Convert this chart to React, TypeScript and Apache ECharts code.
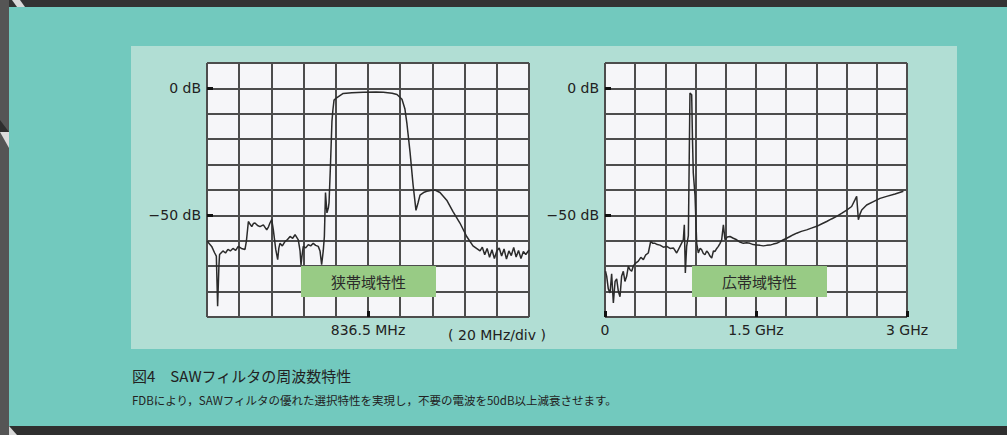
import React, { useEffect, useRef } from "react";
import * as echarts from "echarts";

// ---- Data ----
// Narrow-band trace: frequency offset from 836.5 MHz (MHz), level (dB)
const narrowOffsetMHz = [
  -99.8, -98.8, -97.1, -95.3, -94.2, -93.4, -92.6, -92.2, -90.1, -88.5, -87.0, -85.5, -83.9, -82.2,
  -80.6, -78.6, -76.4, -75.5, -74.3, -73.2, -72.2, -71.2, -70.2, -68.6, -67.1, -65.0, -62.9, -61.8,
  -60.9, -59.8, -58.8, -57.3, -56.1, -55.4, -54.7, -53.2, -51.6, -50.0, -48.4, -46.8, -45.3, -43.3,
  -42.2, -41.6, -41.0, -40.2, -38.7, -37.1, -35.6, -34.0, -32.5, -30.9, -29.8, -28.8, -27.8, -27.1,
  -26.4, -25.5, -24.6, -24.2, -23.3, -22.4, -21.8, -21.1, -19.5, -15.4, -10.0, -3.0, 5.0, 9.5, 15.0,
  18.0, 21.1, 22.9, 24.2, 26.1, 28.0, 29.8, 31.1, 32.3, 34.5, 36.5, 39.0, 41.6, 44.7, 48.9, 52.8, 57.1,
  61.3, 65.2, 69.6, 71.0, 72.5, 74.0, 75.5, 77.0, 78.5, 80.0, 81.5, 83.0, 84.5, 86.0, 87.5, 89.0, 90.5,
  92.0, 93.5, 95.0, 96.5, 98.0, 100.0,
];
const narrowDb = [
  -60, -61, -62.2, -64.7, -66, -85.8, -70, -65.4, -64, -64.8, -63.4, -64, -63, -63.8,
  -62.2, -63, -63.4, -60, -52.4, -53.5, -54.4, -53.2, -53, -54, -54.4, -53.7, -55.7, -54.5,
  -53, -51.7, -55.7, -63.4, -67.4, -63, -61, -62, -60.3, -59.5, -58.3, -59, -57.6, -59.6,
  -64, -69.5, -66, -62.2, -62.8, -61.5, -62, -61, -61.8, -62.2, -64, -69.4, -64, -58.3,
  -41, -49, -47, -45, -30, -13, -8.5, -4.6, -3.7, -2.0, -1.7, -1.5, -1.4, -1.5, -1.9,
  -2.4, -4.3, -8, -14, -25, -38, -48, -45, -42, -41, -40.5, -40.2, -40, -41, -44, -48.5, -53,
  -58.3, -62, -64, -62.5, -65.5, -63, -66.5, -63.5, -67, -64, -62.8, -66, -63.2, -67.2, -64, -65.8, -62.6,
  -66.4, -63.8, -67, -64.2, -65.4, -63.6,
];

// Wide-band trace: frequency (GHz), level (dB)
const wideGHz = [
  0.005, 0.017, 0.033, 0.05, 0.066, 0.083, 0.1, 0.116, 0.133, 0.149, 0.165, 0.182, 0.198, 0.215,
  0.232, 0.248, 0.265, 0.281, 0.298, 0.331, 0.356, 0.381, 0.405, 0.43, 0.454, 0.475, 0.497, 0.52,
  0.546, 0.58, 0.613, 0.646, 0.679, 0.712, 0.745, 0.778, 0.788, 0.798, 0.811, 0.828, 0.844, 0.861,
  0.869, 0.877, 0.894, 0.911, 0.927, 0.944, 0.96, 0.977, 0.993, 1.01, 1.027, 1.043, 1.06, 1.077,
  1.093, 1.11, 1.126, 1.143, 1.159, 1.176, 1.192, 1.215, 1.242, 1.275, 1.308, 1.34, 1.374, 1.407,
  1.44, 1.473, 1.507, 1.54, 1.573, 1.606, 1.639, 1.672, 1.705, 1.738, 1.772, 1.805, 1.838, 1.871,
  1.904, 1.95, 2.003, 2.05, 2.103, 2.15, 2.202, 2.25, 2.301, 2.35, 2.401, 2.45, 2.484, 2.5, 2.517,
  2.533, 2.55, 2.599, 2.666, 2.732, 2.798, 2.881, 2.964,
];
const wideDb = [
  -72, -74, -79, -80.5, -73, -84.5, -76, -75, -80, -82, -74, -72, -76, -74,
  -70, -71.4, -72, -70, -69, -68, -66.5, -67.4, -65.5, -64.8, -60.2, -61, -61, -61.5,
  -61.7, -62.5, -62.2, -63, -62.8, -64.8, -62.2, -59.6, -53.7, -72.7, -62.2, -58, -1.8, -2.5,
  -20, -33.3, -42, -61, -64.8, -63, -63.5, -65, -65.5, -64, -64.8, -66, -66.8, -64,
  -64.2, -63, -62.2, -61, -59.6, -53.7, -59.6, -58.5, -58.3, -59, -59.6, -60.5, -61, -60.8,
  -61, -61.5, -61.7, -61.8, -62, -61.8, -61.7, -61.3, -61, -60.3, -59.6, -59, -58.3, -57.6,
  -57, -56.3, -55.7, -55, -54.3, -53.4, -52.4, -51.4, -50.4, -49.2, -47.9, -46.5, -43.8, -42.5, -51.7,
  -49.5, -47.9, -45.9, -44.6, -43.3, -42.5, -41.6, -40.5,
];

// Tick labels
const yTickValues = [0, -50];
const yTickLabels = ["0 dB", "−50 dB"];
const narrowTickValues = [0];
const narrowTickLabels = ["836.5 MHz"];
const wideTickValues = [0, 1.5, 3];
const wideTickLabels = ["0", "1.5 GHz", "3 GHz"];

// Texts
const spanNote = "( 20 MHz/div )";
const panelTags = ["狭帯域特性", "広帯域特性"];
const captionTitle = "図4　SAWフィルタの周波数特性";
const captionBody =
  "FDBにより，SAWフィルタの優れた選択特性を実現し，不要の電波を50dB以上減衰させます。";

const LATIN = "'DejaVu Sans', 'Liberation Sans', Arial, sans-serif";
const CJK = "'Noto Sans CJK JP', 'Noto Sans', sans-serif";
const GRID_LINE = { color: "#4d4d4d", width: 2 };
const TRACE = { color: "#2b2b2b", width: 1.5 };

function labelFor(values: number[], labels: string[]) {
  return (v: number) => {
    const i = values.findIndex((t) => Math.abs(t - v) < 1e-6);
    return i >= 0 ? labels[i] : "";
  };
}

const hiddenLine = { show: false, onZero: false };

function mainX(gridIndex: number, min: number, max: number, interval: number) {
  return {
    type: "value",
    gridIndex,
    position: "bottom",
    min,
    max,
    interval,
    axisLine: hiddenLine,
    axisTick: { show: false },
    axisLabel: { show: false },
    splitLine: { show: true, lineStyle: GRID_LINE },
  };
}
function labelX(gridIndex: number, min: number, max: number, values: number[], labels: string[]) {
  return {
    type: "value",
    gridIndex,
    position: "bottom",
    min,
    max,
    axisLine: hiddenLine,
    splitLine: { show: false },
    axisTick: {
      show: true,
      inside: true,
      length: 6,
      customValues: values,
      lineStyle: { color: "#111", width: 3 },
    },
    axisLabel: {
      show: true,
      customValues: values,
      formatter: labelFor(values, labels),
      margin: 6,
      color: "#222",
      fontSize: 14,
      fontFamily: LATIN,
    },
  };
}
function mainY(gridIndex: number) {
  return {
    type: "value",
    gridIndex,
    position: "left",
    min: -90,
    max: 10,
    interval: 10,
    axisLine: hiddenLine,
    axisTick: { show: false },
    axisLabel: { show: false },
    splitLine: { show: true, lineStyle: GRID_LINE },
  };
}
function labelY(gridIndex: number) {
  return {
    type: "value",
    gridIndex,
    position: "left",
    min: -90,
    max: 10,
    axisLine: hiddenLine,
    splitLine: { show: false },
    axisTick: {
      show: true,
      inside: true,
      length: 6,
      customValues: yTickValues,
      lineStyle: { color: "#111", width: 3 },
    },
    axisLabel: {
      show: true,
      customValues: yTickValues,
      formatter: labelFor(yTickValues, yTickLabels),
      margin: 6,
      color: "#222",
      fontSize: 14,
      fontFamily: LATIN,
    },
  };
}

function tag(x: number, text: string) {
  return {
    type: "group",
    z: 100,
    children: [
      { type: "rect", z: 100, shape: { x, y: 266, width: 135, height: 31 }, style: { fill: "#98CB85" } },
      {
        type: "text",
        z: 101,
        x: x + 67.5,
        y: 281.5,
        style: { text, fill: "#2a2a2a", font: `15px ${CJK}`, textAlign: "center", textVerticalAlign: "middle" },
      },
    ],
  };
}

export default function App() {
  const ref = useRef<HTMLDivElement>(null);

  useEffect(() => {
    if (!ref.current) return;
    const chart = echarts.init(ref.current, undefined, { renderer: "svg" });
    const option: any = {
      animation: false,
      grid: [
        { left: 207, top: 63, width: 322, height: 254, show: true, backgroundColor: "#F6F6F9", borderColor: "#2a2a2a", borderWidth: 1 },
        { left: 605, top: 63, width: 302, height: 254, show: true, backgroundColor: "#F6F6F9", borderColor: "#2a2a2a", borderWidth: 1 },
      ],
      xAxis: [
        mainX(0, -100, 100, 20),
        labelX(0, -100, 100, narrowTickValues, narrowTickLabels),
        mainX(1, 0, 3, 0.3),
        labelX(1, 0, 3, wideTickValues, wideTickLabels),
      ],
      yAxis: [mainY(0), labelY(0), mainY(1), labelY(1)],
      series: [
        {
          type: "line",
          xAxisIndex: 0,
          yAxisIndex: 0,
          data: narrowOffsetMHz.map((f, i) => [f, narrowDb[i]]),
          showSymbol: false,
          lineStyle: TRACE,
          z: 5,
        },
        {
          type: "line",
          xAxisIndex: 2,
          yAxisIndex: 2,
          data: wideGHz.map((f, i) => [f, wideDb[i]]),
          showSymbol: false,
          lineStyle: TRACE,
          z: 5,
        },
      ],
      graphic: [
        tag(301, panelTags[0]),
        tag(692, panelTags[1]),
        {
          type: "text",
          x: 497,
          y: 335,
          style: { text: spanNote, fill: "#222", font: `14px ${LATIN}`, textAlign: "center", textVerticalAlign: "middle" },
        },
        {
          type: "text",
          x: 132,
          y: 375,
          style: { text: captionTitle, fill: "#222", font: `15px ${CJK}`, textAlign: "left", textVerticalAlign: "middle" },
        },
        {
          type: "text",
          x: 132,
          y: 400,
          style: { text: captionBody, fill: "#222", font: `11.5px ${CJK}`, textAlign: "left", textVerticalAlign: "middle" },
        },
      ],
    };
    chart.setOption(option);
    return () => chart.dispose();
  }, []);

  const abs = (s: React.CSSProperties): React.CSSProperties => ({ position: "absolute", ...s });

  return (
    <div style={{ position: "fixed", left: 0, top: 0, width: 1007, height: 435, background: "#72C9BE", overflow: "hidden" }}>
      <div style={abs({ left: 0, top: 0, width: 1007, height: 7, background: "#333333" })} />
      <div style={abs({ left: 0, top: 426, width: 1007, height: 9, background: "#2f2f2f" })} />
      <div style={abs({ left: 0, top: 0, width: 9, height: 435, background: "#555555" })} />
      <svg style={abs({ left: 0, top: 0 })} width={30} height={435}>
        <polygon points="12,0 20,0 25,7 17,7" fill="#d8d8d8" />
        <polygon points="0,120 9,132 0,132" fill="#2e2e2e" />
        <polygon points="0,132 9,132 9,148" fill="#dcdcdc" />
        <polygon points="9,426 17,435 9,435" fill="#d8d8d8" />
      </svg>
      <div style={abs({ left: 131, top: 46, width: 826, height: 303, background: "#B1DED4" })} />
      <div ref={ref} style={abs({ left: 0, top: 0, width: 1007, height: 435 })} />
    </div>
  );
}
